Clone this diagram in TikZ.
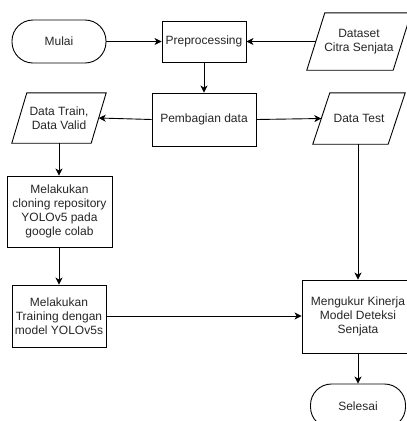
\documentclass[tikz,border=0pt]{standalone}
\usepackage{fontspec}
\setmainfont{Liberation Sans}
\usetikzlibrary{arrows.meta,positioning}
\begin{document}
\begin{tikzpicture}[x=1pt,y=-1pt,
  every node/.style={font=\fontsize{12}{14}\selectfont, align=center, inner sep=0pt, text=black!85},
  procbox/.style={draw, line width=0.9pt, rectangle},
  term/.style={draw, line width=0.9pt, rectangle, rounded corners=21pt},
  iobox/.style={rectangle},
  arr/.style={line width=0.9pt, -{Stealth[length=7pt,width=7pt,inset=2pt]}},
  ln/.style={line width=0.9pt}
]
\useasboundingbox (0,0) rectangle (407,421);
\clip (0,0) rectangle (407,421);
\fill[white] (0,0) rectangle (407,421);

\node[term, minimum width=94pt, minimum height=43pt] (mulai) at (59,41.5) {Mulai};
\node[procbox, minimum width=84pt, minimum height=41pt] (pre) at (204,41.5) {Preprocessing};
\node[iobox, minimum width=104pt, minimum height=57pt] (dataset) at (359,41.5) {Dataset\\Citra Senjata};
\draw[line width=0.9pt] ([xshift=18pt]dataset.north west) -- (dataset.north east) -- ([xshift=-18pt]dataset.south east) -- (dataset.south west) -- cycle;

\node[procbox, minimum width=104pt, minimum height=53pt] (bagi) at (204,119.5) {Pembagian data};
\node[iobox, minimum width=94pt, minimum height=50pt] (train) at (59,118) {Data Train,\\Data Valid};
\draw[line width=0.9pt] ([xshift=15pt]train.north west) -- (train.north east) -- ([xshift=-15pt]train.south east) -- (train.south west) -- cycle;
\node[iobox, minimum width=92pt, minimum height=51pt] (test) at (359,118.5) {Data Test};
\draw[line width=0.9pt] ([xshift=17pt]test.north west) -- (test.north east) -- ([xshift=-17pt]test.south east) -- (test.south west) -- cycle;

\node[procbox, minimum width=105pt, minimum height=71pt] (clone) at (59.5,211.5) {Melakukan\\cloning repository\\YOLOv5 pada\\google colab};
\node[procbox, minimum width=94pt, minimum height=62pt] (training) at (59,316) {Melakukan\\Training dengan\\model YOLOv5s};
\node[procbox, minimum width=112pt, minimum height=73pt] (ukur) at (358,316.5) {Mengukur Kinerja\\Model Deteksi\\Senjata};
\node[term, minimum width=95pt, minimum height=44pt] (selesai) at (358,406) {Selesai};

\draw[arr] (mulai.east) -- (pre.west);
\draw[arr] ([xshift=9pt]dataset.west) -- (pre.east);
\draw[arr] (pre.south) -- (bagi.north);
\draw[arr] (bagi.west) -- ([xshift=-7.5pt]train.east);
\draw[arr] (bagi.east) -- ([xshift=8.5pt]test.west);
\draw[arr] (train.south) -- (clone.north -| train.south);
\draw[arr] (clone.south -| training.north) -- (training.north);
\draw[arr] (test.south -| ukur.north) -- (ukur.north);
\draw[arr] (training.east) -- (ukur.west |- training.east);
\draw[arr] (ukur.south) -- (selesai.north);
\end{tikzpicture}
\end{document}
